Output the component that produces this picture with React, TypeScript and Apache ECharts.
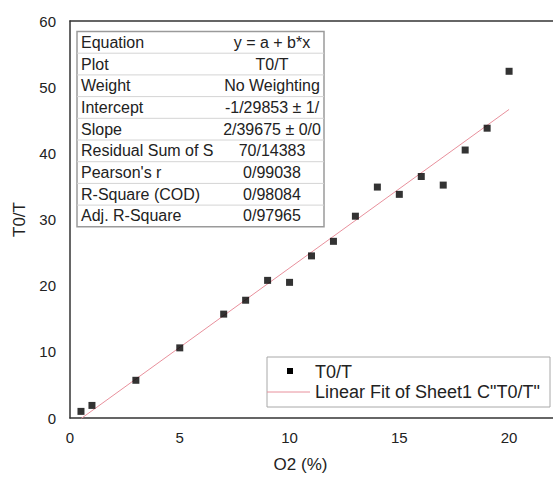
import React, { useEffect, useRef } from "react";
import * as echarts from "echarts";

// Measured data: O2 (%) vs T0/T
const o2 = [0.5, 1, 3, 5, 7, 8, 9, 10, 11, 12, 13, 14, 15, 16, 17, 18, 19, 20];
const t0t = [1.0, 1.9, 5.7, 10.6, 15.7, 17.8, 20.8, 20.5, 24.5, 26.7, 30.5, 34.9, 33.8, 36.5, 35.2, 40.5, 43.8, 52.4];

// Linear fit parameters (from the fit table)
const intercept = -1.29853;
const slope = 2.39675;
const fitRange = [0.5, 20];

// Fit table contents
const tableLabels = [
  "Equation",
  "Plot",
  "Weight",
  "Intercept",
  "Slope",
  "Residual Sum of S",
  "Pearson's r",
  "R-Square (COD)",
  "Adj. R-Square",
];
const tableValues = [
  "y = a + b*x",
  "T0/T",
  "No Weighting",
  "-1/29853 ± 1/",
  "2/39675 ± 0/0",
  "70/14383",
  "0/99038",
  "0/98084",
  "0/97965",
];

const legendNames = ["T0/T", 'Linear Fit of Sheet1 C"T0/T"'];

const FONT = "'Liberation Sans', Arial, sans-serif";
const FIT_COLOR = "#e8909c";

export default function App() {
  const ref = useRef<HTMLDivElement>(null);

  useEffect(() => {
    document.body.style.margin = "0";
    if (!ref.current) return;
    const chart = echarts.init(ref.current, null, { renderer: "svg" });

    const scatterData = o2.map((x, i) => [x, t0t[i]]);
    const fitData = fitRange.map((x) => [x, intercept + slope * x]);

    // table graphic
    const tX = 77;
    const tY = 31.5;
    const tW = 247;
    const rowH = 21.7;
    const tH = rowH * tableLabels.length;
    const tableEls: any[] = [
      {
        type: "rect",
        shape: { x: tX, y: tY, width: tW, height: tH },
        style: { fill: "#fff", stroke: "#9a9a9a", lineWidth: 1.5 },
      },
    ];
    for (let i = 1; i < tableLabels.length; i++) {
      tableEls.push({
        type: "line",
        shape: { x1: tX, y1: tY + i * rowH, x2: tX + tW, y2: tY + i * rowH },
        style: { stroke: "#d4d4d4", lineWidth: 1 },
      });
    }
    tableLabels.forEach((lab, i) => {
      tableEls.push({
        type: "text",
        x: tX + 4,
        y: tY + (i + 0.5) * rowH,
        style: {
          text: lab,
          fontSize: 16,
          fontFamily: FONT,
          fill: "#222",
          align: "left",
          verticalAlign: "middle",
        },
      });
      tableEls.push({
        type: "text",
        x: 272,
        y: tY + (i + 0.5) * rowH,
        style: {
          text: tableValues[i],
          fontSize: 16,
          fontFamily: FONT,
          fill: "#222",
          align: "center",
          verticalAlign: "middle",
        },
      });
    });

    // legend graphic
    const lX = 267;
    const lY = 357;
    const legendEls: any[] = [
      {
        type: "rect",
        shape: { x: lX, y: lY, width: 283, height: 50 },
        style: { fill: "#fff", stroke: "#a8a8a8", lineWidth: 1 },
      },
      {
        type: "rect",
        shape: { x: 287, y: 368, width: 6, height: 6 },
        style: { fill: "#000" },
      },
      {
        type: "line",
        shape: { x1: lX, y1: 392, x2: 310, y2: 392 },
        style: { stroke: FIT_COLOR, lineWidth: 1 },
      },
      {
        type: "text",
        x: 315,
        y: 372,
        style: {
          text: legendNames[0],
          fontSize: 18,
          fontFamily: FONT,
          fill: "#222",
          verticalAlign: "middle",
        },
      },
      {
        type: "text",
        x: 315,
        y: 392,
        style: {
          text: legendNames[1],
          fontSize: 18,
          fontFamily: FONT,
          fill: "#222",
          verticalAlign: "middle",
        },
      },
    ];

    chart.setOption({
      animation: false,
      backgroundColor: "#fff",
      grid: { left: 70, right: 0, top: 21, bottom: 60 },
      xAxis: [
        {
          type: "value",
          min: 0,
          max: 22,
          interval: 5,
          name: "O2 (%)",
          nameLocation: "middle",
          nameGap: 38,
          nameTextStyle: { fontSize: 17, fontFamily: FONT, color: "#222", padding: [0, 22, 0, 0] },
          axisLine: { show: true, onZero: false, lineStyle: { color: "#333", width: 1.5 } },
          axisTick: { show: false },
          splitLine: { show: false },
          axisLabel: {
            fontSize: 15,
            fontFamily: FONT,
            color: "#222",
            margin: 12,
            showMaxLabel: false,
            formatter: (v: number) => (v % 5 === 0 ? String(v) : ""),
          },
        },
        {
          type: "value",
          position: "top",
          min: 0,
          max: 22,
          interval: 5,
          axisLine: { show: true, onZero: false, lineStyle: { color: "#333", width: 1.5 } },
          axisTick: { show: false },
          axisLabel: { show: false },
          splitLine: { show: false },
        },
      ],
      yAxis: {
        type: "value",
        min: 0,
        max: 60,
        interval: 10,
        name: "T0/T",
        nameLocation: "middle",
        nameGap: 42,
        nameTextStyle: { fontSize: 17, fontFamily: FONT, color: "#222" },
        axisLine: { show: true, onZero: false, lineStyle: { color: "#333", width: 1.5 } },
        axisTick: { show: false },
        splitLine: { show: false },
        axisLabel: { fontSize: 15, fontFamily: FONT, color: "#222", margin: 14 },
      },
      series: [
        {
          name: legendNames[1],
          type: "line",
          data: fitData,
          showSymbol: false,
          symbol: "none",
          lineStyle: { color: FIT_COLOR, width: 1 },
          clip: true,
          z: 2,
        },
        {
          name: legendNames[0],
          type: "scatter",
          data: scatterData,
          symbol: "rect",
          symbolSize: 7,
          itemStyle: { color: "#000" },
          z: 3,
        },
      ],
      graphic: [
        { type: "group", z: 10, children: tableEls },
        { type: "group", z: 10, children: legendEls },
      ],
    });

    return () => chart.dispose();
  }, []);

  return <div ref={ref} style={{ width: 553, height: 478 }} />;
}
